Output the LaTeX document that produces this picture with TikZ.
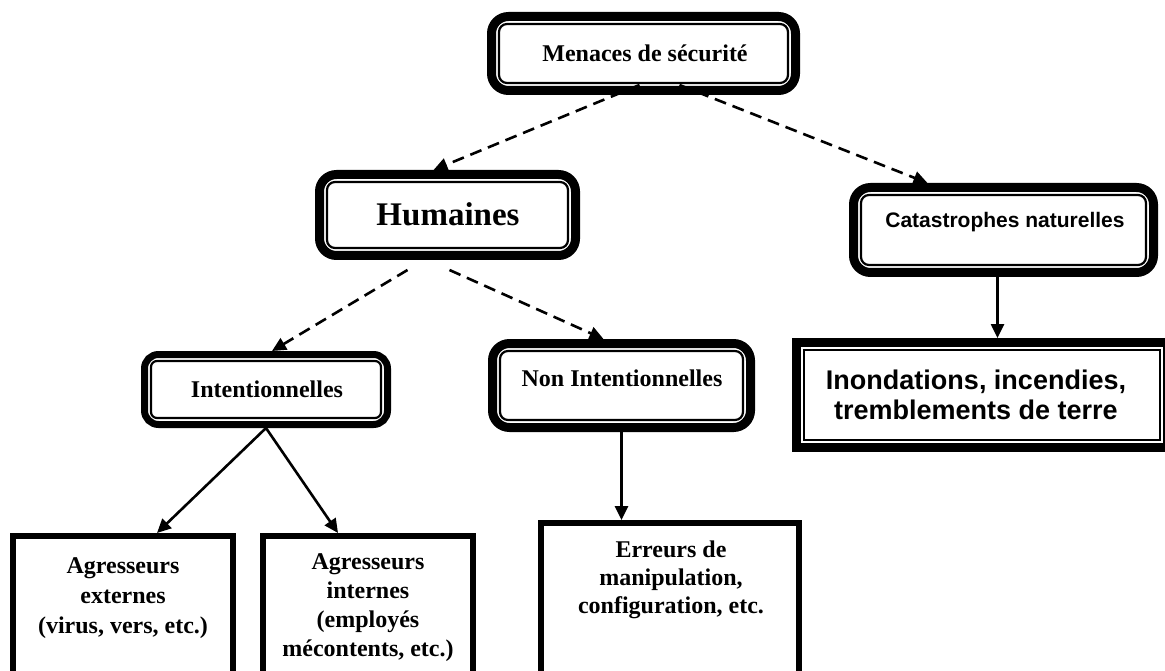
\documentclass[tikz,border=0pt]{standalone}
\usepackage{fontspec}
\setmainfont{Liberation Serif}
\newfontfamily\arialfont{Liberation Sans}
\usetikzlibrary{arrows.meta,calc}

% rounded box with a thick outer frame and a thin inner frame
% #1 name, #2 x1, #3 y1, #4 x2, #5 y2, #6 frame width, #7 outer radius, #8 inner radius
\newcommand\roundframe[8]{%
  \node[draw, line width=#6pt, rounded corners=#7pt, inner sep=0pt,
        outer sep={0.5*#6}, minimum width={#4-#2-#6}, minimum height={#5-#3-#6}]
        (#1) at ({(#2+#4)/2},{(#3+#5)/2}) {};
  \draw[line width=2.2pt, rounded corners=#8pt]
        ($(#1.north west)+({#6+3},{#6+3})$) rectangle ($(#1.south east)-({#6+3},{#6+3})$);
}
% square box with a thick outer frame and a thin inner frame
\newcommand\squareframe[6]{%
  \node[draw, line width=#6pt, inner sep=0pt,
        outer sep={0.5*#6}, minimum width={#4-#2-#6}, minimum height={#5-#3-#6}]
        (#1) at ({(#2+#4)/2},{(#3+#5)/2}) {};
  \draw[line width=1.8pt]
        ($(#1.north west)+({#6+3},{#6+3})$) rectangle ($(#1.south east)-({#6+3},{#6+3})$);
}
% plain box with a single heavy frame
\newcommand\plainframe[5]{%
  \node[draw, line width=6pt, inner sep=0pt, outer sep=3pt,
        minimum width={#4-#2-6}, minimum height={#5-#3-6}]
        (#1) at ({(#2+#4)/2},{(#3+#5)/2}) {};
}

\tikzset{
  serifbold/.style={font=\bfseries\fontsize{24}{30}\selectfont, align=center, inner sep=0pt},
  sansbold/.style={font=\arialfont\bfseries\fontsize{21}{26}\selectfont, align=center, inner sep=0pt},
  dasharrow/.style={line width=2.6pt, dash pattern=on 12pt off 7pt,
                    -{Triangle[length=14pt,width=13pt]}},
  solidarrow/.style={line width=2.6pt, -{Triangle[length=14pt,width=13pt]}}
}

\begin{document}
\begin{tikzpicture}[x=1pt,y=-1pt]
  \useasboundingbox (0,0) rectangle (1165,671);
  \clip (0,0) rectangle (1165,671);

  % frames
  \roundframe{top}{487}{12}{800}{95}{9}{17}{8}
  \roundframe{hum}{315}{170}{580}{260}{9}{17}{8}
  \roundframe{cat}{849}{183}{1158}{277}{9}{17}{8}
  \roundframe{intl}{141}{351}{391}{428}{7}{14}{6}
  \roundframe{nonint}{488}{339}{755}{432}{9}{17}{8}
  \squareframe{ino}{792}{338}{1172}{452}{9}
  \plainframe{ext}{10}{533}{236}{720}
  \plainframe{int}{260}{533}{476}{720}
  \plainframe{err}{538}{520}{802}{720}

  % texts
  \node[serifbold] (toptext) at (645,53) {Menaces de sécurité};
  \node[serifbold, font=\bfseries\fontsize{33}{38}\selectfont] (humtext) at (448,214) {Humaines};
  \node[sansbold] (cattext) at (1005,222) {Catastrophes naturelles};
  \node[serifbold] (intltext) at (267,389) {Intentionnelles};
  \node[serifbold] (noninttext) at (622,378) {Non Intentionnelles};
  \node[sansbold, font=\arialfont\bfseries\fontsize{27}{30}\selectfont] (inotext) at (976,395)
       {Inondations, incendies,\\tremblements de terre};
  \node[serifbold] (exttext) at (123,598) {Agresseurs\\externes\\(virus, vers, etc.)};
  \node[serifbold, font=\bfseries\fontsize{24}{29}\selectfont] (inttext) at (368,608)
       {Agresseurs\\internes\\(employés\\mécontents, etc.)};
  \node[serifbold, font=\bfseries\fontsize{24}{28}\selectfont] (errtext) at (671,580)
       {Erreurs de\\manipulation,\\configuration, etc.};

  % connectors
  \draw[dasharrow] ($(top.south)+(-4,-10)$) -- ($(hum.north)+(-14,0)$);
  \draw[dasharrow] ($(top.south)+(36,-10)$) -- ($(cat.north)+(-76,0)$);
  \draw[dasharrow] ($(hum.south)+(-40,10)$) -- ($(intl.north)+(6,0)$);
  \draw[dasharrow] ($(hum.south)+(2,10)$) -- ($(nonint.north)+(-18,0)$);
  \draw[solidarrow] (intl.south) -- ($(ext.north)+(34,0)$);
  \draw[solidarrow] (intl.south) -- ($(int.north)+(-30,0)$);
  \draw[solidarrow] (nonint.south) -- (nonint.south |- err.north);
  \draw[solidarrow] ($(cat.south)+(-6,0)$) -- ($(ino.north)+(15.5,0)$);
\end{tikzpicture}
\end{document}
